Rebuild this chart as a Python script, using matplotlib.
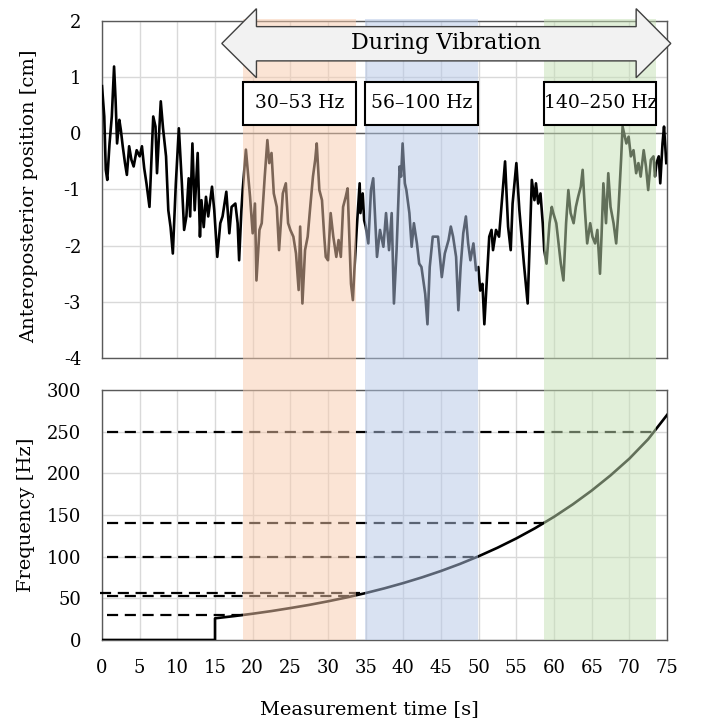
import matplotlib.pyplot as plt
from matplotlib.patches import Rectangle, Polygon
from matplotlib.transforms import blended_transform_factory

plt.rcParams['font.family'] = ['DejaVu Serif']
plt.rcParams['axes.unicode_minus'] = False

# anteroposterior position trace
pos_t = [0.0, 0.3, 0.5, 0.7, 1.0, 1.3, 1.6, 1.8, 2.0, 2.3, 2.5, 2.75, 3.05, 3.3, 3.6, 3.9, 4.2, 4.6,
         5.0, 5.3, 5.6, 5.9, 6.3, 6.5, 6.8, 7.1, 7.3, 7.8, 8.1, 8.5, 8.8, 9.1, 9.4, 9.8, 10.2, 10.6,
         10.9, 11.2, 11.5, 11.7, 12.0, 12.3, 12.7, 13.0, 13.2, 13.5, 13.8, 14.1, 14.6, 14.9, 15.3,
         15.7, 16.0, 16.5, 16.9, 17.2, 17.7, 18.0, 18.2, 18.5,
         18.67, 19.1, 19.3, 19.65, 20.0, 20.3, 20.5, 20.9, 21.2, 21.6, 21.95, 22.2, 22.5, 22.8, 23.2,
         23.5, 24.0, 24.4, 24.7, 25.0, 25.4, 25.75, 26.1, 26.3, 26.6, 26.95, 27.3, 27.6, 28.0, 28.3,
         28.5, 28.85, 29.2, 29.5, 29.7, 30.0, 30.35, 30.7, 31.1, 31.4, 31.7, 32.0, 32.35, 32.6, 32.8,
         33.05, 33.3, 33.5, 33.8, 34.2, 34.3, 34.6, 34.8, 35.0, 35.35, 35.7, 36.0, 36.5, 36.9,
         37.35, 37.7, 38.1, 38.45, 38.75, 39.1, 39.5, 39.7, 39.9, 40.2, 40.4, 40.8, 41.1, 41.4, 41.8,
         42.1, 42.4, 42.9, 43.2, 43.5, 43.9, 44.2, 44.6, 45.1, 45.5, 46.0, 46.3, 46.6, 47.0, 47.3,
         47.6, 47.95, 48.3, 48.6, 48.9, 49.3, 49.65, 49.95, 50.2, 50.5, 50.75, 51.05, 51.4, 51.7,
         51.9, 52.3, 52.7, 53.05, 53.5, 53.9, 54.25, 54.5, 55.0, 55.4,
         56.0, 56.5, 56.8, 57.05, 57.4, 57.6, 57.9, 58.2, 58.5, 58.7, 59.0, 59.4, 59.7, 59.9, 60.3,
         60.6, 60.9, 61.25, 61.6, 61.9, 62.2, 62.6, 62.9, 63.2, 63.55, 63.8, 64.1, 64.4, 64.8, 65.1,
         65.45, 65.75, 66.1, 66.3, 66.55, 66.9, 67.2, 67.5, 67.9, 68.25, 68.55, 68.9, 69.1, 69.3,
         69.6, 69.9, 70.2, 70.55, 70.9, 71.2, 71.5, 71.9, 72.2, 72.5, 72.85, 73.2, 73.4, 73.6, 73.9,
         74.1, 74.4, 74.6, 74.9]
pos_cm = [0.84, 0.3, -0.65, -0.83, -0.18, 0.3, 1.19, 0.6, -0.18, 0.24, 0.06, -0.23, -0.53, -0.74,
          -0.23, -0.47, -0.59, -0.3, -0.41, -0.23, -0.62, -0.89, -1.31, -0.65, 0.3, 0.12, -0.71,
          0.57, 0.09, -0.41, -1.37, -1.67, -2.14, -0.89, 0.09, -0.89, -1.72, -1.48, -0.8, -1.48,
          -0.18, -1.37, -0.35, -1.84, -1.19, -1.67, -1.13, -1.48, -0.95, -1.37, -2.2, -1.6, -1.48,
          -1.04, -1.78, -1.31, -1.25, -1.6, -2.26, -1.37,
          -1.01, -0.29, -0.59, -1.13, -1.78, -1.25, -2.62, -1.72, -1.6, -0.77, -0.12, -0.53, -0.35,
          -1.07, -1.31, -2.08, -1.07, -0.89, -1.6, -1.72, -1.84, -2.14, -2.79, -1.66, -3.03, -2.08,
          -1.84, -1.37, -0.77, -0.47, -0.18, -1.01, -1.19, -1.84, -2.2, -2.26, -1.42, -1.84, -2.2,
          -1.9, -2.2, -1.31, -1.13, -0.98, -1.72, -2.68, -2.97, -2.44, -1.72, -0.89, -1.42, -1.07,
          -1.55, -1.66, -1.96, -1.01, -0.8, -2.2, -1.72,
          -2.02, -1.42, -2.08, -1.42, -3.03, -2.08, -0.59, -0.77, -0.18, -0.89, -1.01, -1.42, -2.02,
          -1.6, -1.96, -2.32, -2.38, -2.86, -3.4, -2.38, -1.84, -1.84, -1.84, -2.56, -2.14, -1.9,
          -1.66, -1.84, -2.2, -3.15, -2.38, -1.78, -1.48, -1.96, -2.26, -1.96, -2.44, -2.38, -2.8,
          -2.68, -3.4, -2.68, -1.84, -1.72, -2.08, -1.72, -1.84, -1.25, -0.5, -1.66, -2.08, -1.25,
          -0.53, -1.37,
          -2.32, -3.03, -1.84, -0.83, -1.19, -0.89, -1.25, -1.07, -1.6, -2.08, -2.32, -1.6, -1.31,
          -1.42, -1.6, -1.96, -2.32, -2.62, -1.6, -1.01, -1.42, -1.6, -1.31, -1.13, -0.95, -0.65,
          -1.37, -1.96, -1.6, -1.84, -1.96, -1.72, -2.5, -1.84, -0.89, -1.6, -0.71, -1.31, -1.6,
          -1.96, -1.37, -0.47, 0.12, 0.0, -0.18, -0.06, -0.41, -0.3, -0.71, -0.53, -0.77, -0.3,
          -0.59, -1.01, -0.47, -0.41, -0.77, -0.53, -0.41, -0.89, -0.18, 0.12, -0.53]

# vibration frequency sweep
freq_t = [0, 15, 15, 17.5, 20, 22.5, 25, 27.5, 30, 32.5, 35, 37.5, 40, 42.5, 45, 47.5, 50, 52.5,
          55, 57.5, 60, 62.5, 65, 67.5, 70, 72.5, 75]
freq_hz = [0, 0, 26, 28.6, 31.5, 34.7, 38.3, 42.1, 46.4, 51.1, 56.3, 62.0, 68.3, 75.2, 82.8,
           91.2, 100.5, 110.7, 121.9, 134.2, 147.8, 162.8, 179.3, 197.5, 217.6, 241, 270]

# dashed reference levels
hz_levels = [30, 53, 56, 100, 140, 250]
hz_start = [0.6, 0.6, -0.3, 0.6, 0.6, 0.6]
hz_end = [18.7, 33.7, 34.9, 50.0, 58.7, 73.6]

# vibration bands
band_start = [18.7, 34.9, 58.7]
band_end = [33.7, 49.9, 73.6]
band_colors = ['#f8cbad', '#b4c7e7', '#c5e0b4']
band_labels = ['30–53 Hz', '56–100 Hz', '140–250 Hz']

grid_c = '#d9d9d9'
spine_c = '#595959'

fig = plt.figure(figsize=(7.04, 7.27), dpi=100)
ax1 = fig.add_axes([0.1449, 0.5076, 0.8026, 0.4635])
ax2 = fig.add_axes([0.1449, 0.1197, 0.8026, 0.3439])

for ax in (ax1, ax2):
    ax.set_xlim(0, 75)
    ax.set_xticks(range(0, 76, 5))
    ax.grid(True, color=grid_c, lw=1)
    ax.set_axisbelow(True)
    for s in ax.spines.values():
        s.set_color(spine_c)
        s.set_linewidth(1)
    ax.tick_params(length=0, labelsize=13)
    ax.tick_params(axis='y', pad=15)
    ax.tick_params(axis='x', pad=14)

# top panel
ax1.set_ylim(-4, 2)
ax1.set_yticks(range(-4, 3))
ax1.tick_params(labelbottom=False)
ax1.axhline(0, color=spine_c, lw=1, zorder=2)
ax1.plot(pos_t, pos_cm, color='black', lw=1.9, zorder=3)
ax1.set_ylabel('Anteroposterior position [cm]', fontsize=14)
ax1.yaxis.set_label_coords(-0.113, 0.48)

# bottom panel
ax2.set_ylim(0, 300)
ax2.set_yticks(range(0, 301, 50))
for lvl, x0, x1 in zip(hz_levels, hz_start, hz_end):
    ax2.plot([x0, x1], [lvl, lvl], color='black', lw=1.6, dashes=(5, 3), clip_on=False, zorder=3)
ax2.plot(freq_t, freq_hz, color='black', lw=1.9, zorder=4)
ax2.set_ylabel('Frequency [Hz]', fontsize=14)
ax2.yaxis.set_label_coords(-0.119, 0.5)
ax2.set_xlabel('Measurement time [s]', fontsize=14)
ax2.xaxis.set_label_coords(0.473, -0.24)

# translucent bands spanning both panels
y_lo = ax2.get_position().y0
y_hi = ax1.get_position().y1
trans = blended_transform_factory(ax2.transData, fig.transFigure)
for x0, x1, c in zip(band_start, band_end, band_colors):
    fig.add_artist(Rectangle((x0, y_lo), x1 - x0, y_hi - y_lo + 0.003, transform=trans,
                             facecolor=c, alpha=0.5, lw=0, zorder=1))

# double arrow "During Vibration"
arrow = [(15.9, 1.6), (20.5, 2.22), (20.5, 1.9), (70.9, 1.9), (70.9, 2.22), (75.5, 1.6),
         (70.9, 0.99), (70.9, 1.29), (20.5, 1.29), (20.5, 0.99)]
fig.add_artist(Polygon(arrow, closed=True, transform=ax1.transData, facecolor='#f2f2f2',
                       edgecolor='#404040', lw=1, zorder=2))
fig.text(45.7, 1.6, 'During Vibration', transform=ax1.transData, ha='center', va='center',
         fontsize=16, zorder=5)

# band label boxes
for x0, x1, lab in zip(band_start, band_end, band_labels):
    fig.add_artist(Rectangle((x0, 0.15), x1 - x0, 0.77, transform=ax1.transData,
                             facecolor='white', edgecolor='black', lw=1.5, zorder=3))
    fig.text((x0 + x1) / 2, 0.535, lab, transform=ax1.transData, ha='center', va='center',
             fontsize=13.5, zorder=5)

fig.savefig('out.png', dpi=100)
